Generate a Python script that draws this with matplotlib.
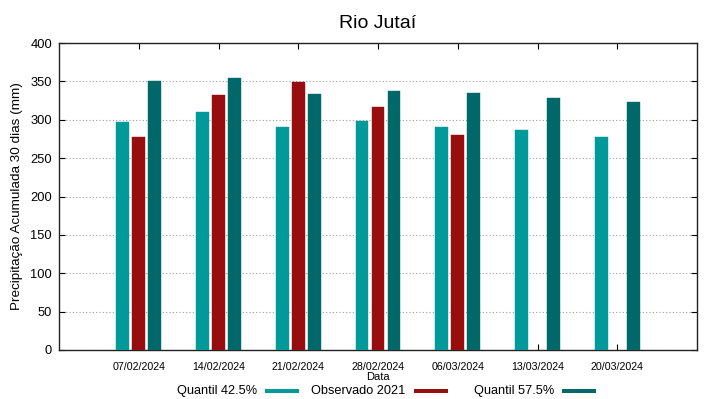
import matplotlib
matplotlib.use("Agg")
import matplotlib.pyplot as plt
from matplotlib.patches import Rectangle
import numpy as np

plt.rcParams['font.family'] = ['Liberation Sans', 'DejaVu Sans']

dates = ["07/02/2024", "14/02/2024", "21/02/2024", "28/02/2024",
         "06/03/2024", "13/03/2024", "20/03/2024"]
q425 = [297, 310, 291, 299, 291, 286, 278]
obs2021 = [278, 332, 349, 316, 280, np.nan, np.nan]
q575 = [350, 355, 334, 338, 335, 328, 323]

series_names = ["Quantil 42.5%", "Observado 2021", "Quantil 57.5%"]
colors = ["#009a9a", "#980e0e", "#006868"]

W, H = 719, 399
fig = plt.figure(figsize=(W/100, H/100), dpi=100)
ax = fig.add_axes([59/W, 49/H, 638/W, 307/H])

x = np.arange(len(dates))
w = 0.16
off = 0.2
for vals, dx, c in zip([q425, obs2021, q575], [-off, 0, off], colors):
    ax.bar(x + dx, vals, width=w, color=c, edgecolor=c, linewidth=0.3, zorder=3)

ax.set_xlim(-1, 7)
ax.set_ylim(0, 400)
ax.set_yticks(np.arange(0, 401, 50))
ax.set_xticks(x)
ax.set_xticklabels(dates, fontsize=7.7)
ax.tick_params(axis='x', direction='in', top=True, bottom=True, length=4, pad=9, width=0.8)
ax.tick_params(axis='y', direction='in', left=True, right=True, length=4, pad=5, width=0.8, labelsize=9.3)
ax.yaxis.grid(True, linestyle=(0, (1, 2)), color='#a0a0a0', linewidth=0.8)
ax.set_axisbelow(True)
for s in ax.spines.values():
    s.set_linewidth(1.0)
    s.set_color('#222222')

ax.set_title("Rio Jutaí", fontsize=14, pad=11)
ax.set_xlabel("Data", fontsize=8, labelpad=-0.3)
ax.set_ylabel("Precipitação Acumulada 30 dias (mm)", fontsize=9.7)
ax.yaxis.set_label_coords((23-59)/638, 0.5)

# legend (gnuplot-style: text right-aligned, then a colour swatch)
text_right = [257.5, 405, 554.5]
sw_left = [264.5, 413.5, 561.5]
sw_w, sw_h = 34, 4.5
y_txt = 391
for name, c, tr, sl in zip(series_names, colors, text_right, sw_left):
    fig.text(tr/W, 1 - y_txt/H, name, ha='right', va='center', fontsize=9.2)
    fig.patches.append(Rectangle((sl/W, 1 - (y_txt + 2.0)/H), sw_w/W, sw_h/H,
                                 transform=fig.transFigure, facecolor=c, edgecolor='none'))

fig.savefig("out.png", dpi=100)
